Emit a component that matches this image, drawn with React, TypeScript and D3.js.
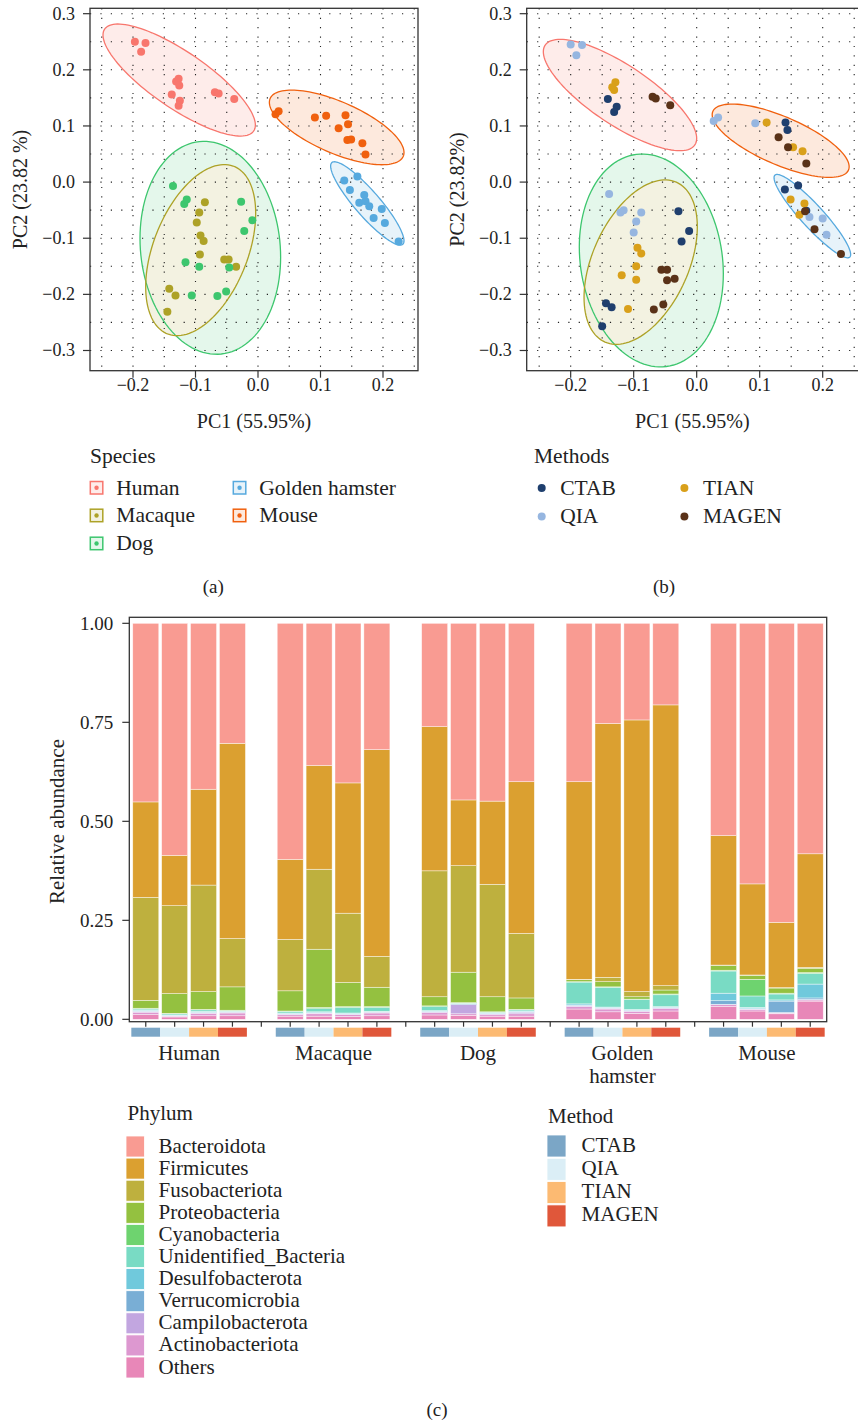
import * as d3 from "d3";

const FONT = "'Liberation Serif', 'Times New Roman', serif";

const speciesNames = ["Human", "Macaque", "Dog", "Golden hamster", "Mouse"];
const speciesColors = ["#F8766D", "#ADA227", "#3DC66E", "#56A9DE", "#F0600E"];
const methodNames = ["CTAB", "QIA", "TIAN", "MAGEN"];
const methodDotColors = ["#1F3F6E", "#96B6E0", "#D9A01A", "#5A3218"];
const methodStripColors = ["#7BA6C6", "#DBEEF6", "#FCBA72", "#E0573A"];

const pcTicksX = [-0.2, -0.1, 0, 0.1, 0.2];
const pcTicksY = [-0.3, -0.2, -0.1, 0, 0.1, 0.2, 0.3];

// panel (a): PC scores by species
const humanA = [[-0.197, 0.25], [-0.18, 0.248], [-0.187, 0.232], [-0.131, 0.179], [-0.127, 0.184], [-0.126, 0.172], [-0.138, 0.156], [-0.125, 0.145], [-0.127, 0.136], [-0.069, 0.16], [-0.063, 0.158], [-0.038, 0.148]];
const macaqueA = [[-0.085, -0.036], [-0.094, -0.054], [-0.098, -0.072], [-0.092, -0.095], [-0.087, -0.105], [-0.093, -0.129], [-0.054, -0.138], [-0.047, -0.138], [-0.035, -0.151], [-0.142, -0.19], [-0.132, -0.202], [-0.145, -0.231]];
const dogA = [[-0.136, -0.007], [-0.118, -0.039], [-0.114, -0.031], [-0.027, -0.035], [-0.009, -0.068], [-0.022, -0.087], [-0.116, -0.143], [-0.094, -0.151], [-0.046, -0.152], [-0.106, -0.202], [-0.065, -0.203], [-0.051, -0.195]];
const hamsterA = [[0.138, 0.003], [0.159, 0.01], [0.147, -0.014], [0.17, -0.023], [0.162, -0.037], [0.172, -0.034], [0.178, -0.043], [0.198, -0.048], [0.185, -0.064], [0.203, -0.073], [0.225, -0.106]];
const mouseA = [[0.028, 0.121], [0.033, 0.126], [0.091, 0.115], [0.109, 0.118], [0.14, 0.119], [0.129, 0.096], [0.144, 0.103], [0.143, 0.075], [0.149, 0.076], [0.167, 0.069], [0.172, 0.049]];

// ellipses: centre x, centre y, offset to right-most point (dx, dy), vertical half-chord through centre
const ellipsesA = [
  [-0.1261, 0.1818, 0.1219, -0.0802, 0.0594],
  [-0.0917, -0.1212, 0.088, 0.0654, 0.1377],
  [-0.0763, -0.1171, 0.1125, -0.0166, 0.1889],
  [0.1749, -0.038, 0.0587, -0.0665, 0.033],
  [0.1259, 0.0974, 0.1077, -0.0446, 0.0493],
];

// panel (b): PC scores by method
const ctabB = [[-0.141, 0.148], [-0.127, 0.134], [-0.131, 0.125], [0.141, 0.106], [0.144, 0.093], [0.14, -0.013], [0.161, -0.006], [0.174, -0.051], [-0.029, -0.052], [-0.012, -0.087], [-0.024, -0.106], [-0.144, -0.216], [-0.135, -0.223], [-0.15, -0.257]];
const qiaB = [[-0.2, 0.245], [-0.182, 0.244], [-0.191, 0.226], [0.027, 0.109], [0.034, 0.115], [0.093, 0.105], [0.179, -0.062], [0.2, -0.065], [0.206, -0.094], [-0.139, -0.021], [-0.121, -0.054], [-0.116, -0.05], [-0.088, -0.054], [-0.096, -0.07], [-0.1, -0.09]];
const tianB = [[-0.129, 0.178], [-0.134, 0.169], [-0.131, 0.164], [0.111, 0.106], [0.153, 0.062], [0.168, 0.055], [0.149, -0.031], [0.171, -0.038], [0.163, -0.058], [-0.094, -0.117], [-0.088, -0.127], [-0.096, -0.15], [-0.119, -0.166], [-0.096, -0.174], [-0.109, -0.226]];
const magenB = [[-0.07, 0.152], [-0.065, 0.149], [-0.042, 0.137], [0.13, 0.08], [0.145, 0.062], [0.174, 0.033], [0.172, -0.052], [0.187, -0.084], [0.229, -0.128], [-0.056, -0.156], [-0.047, -0.156], [-0.047, -0.175], [-0.035, -0.172], [-0.068, -0.227], [-0.053, -0.218]];

const ellipsesB = [
  [-0.1217, 0.1551, 0.1217, -0.0772, 0.0623],
  [-0.0889, -0.1426, 0.0899, 0.063, 0.1322],
  [-0.072, -0.1396, 0.1143, -0.0238, 0.1881],
  [0.1836, -0.0606, 0.0608, -0.0683, 0.0291],
  [0.1333, 0.0737, 0.1087, -0.0463, 0.0461],
];

// panel (c): relative abundance, order = species x method (CTAB, QIA, TIAN, MAGEN)
const phyla = ["Bacteroidota", "Firmicutes", "Fusobacteriota", "Proteobacteria", "Cyanobacteria", "Unidentified_Bacteria", "Desulfobacterota", "Verrucomicrobia", "Campilobacterota", "Actinobacteriota", "Others"];
const phylumColors = ["#F99B92", "#DBA030", "#BEB03E", "#94C140", "#6ED36F", "#79DBC4", "#70C9DC", "#79AED5", "#C2A6E0", "#DD98D0", "#E887B8"];

const bacteroidota = [0.451, 0.586, 0.419, 0.303, 0.596, 0.359, 0.403, 0.319, 0.261, 0.446, 0.449, 0.4, 0.4, 0.253, 0.244, 0.206, 0.536, 0.658, 0.755, 0.582];
const firmicutes = [0.241, 0.127, 0.242, 0.493, 0.202, 0.262, 0.329, 0.522, 0.364, 0.166, 0.21, 0.383, 0.499, 0.641, 0.686, 0.709, 0.327, 0.23, 0.165, 0.287];
const fusobacteriota = [0.26, 0.222, 0.269, 0.122, 0.13, 0.202, 0.175, 0.078, 0.318, 0.269, 0.284, 0.163, 0.001, 0.011, 0.013, 0.011, 0.001, 0.001, 0.001, 0.002];
const proteobacteria = [0.02, 0.05, 0.045, 0.059, 0.051, 0.147, 0.061, 0.049, 0.023, 0.077, 0.038, 0.029, 0.005, 0.013, 0.006, 0.01, 0.012, 0.01, 0.013, 0.011];
const cyanobacteria = [0.002, 0.001, 0.001, 0.001, 0.001, 0.003, 0.002, 0.002, 0.002, 0.001, 0.001, 0.001, 0.001, 0.001, 0.001, 0.002, 0.002, 0.042, 0.002, 0.002];
const unidentified = [0.003, 0.003, 0.004, 0.002, 0.004, 0.008, 0.014, 0.01, 0.01, 0.001, 0.001, 0.003, 0.055, 0.05, 0.025, 0.03, 0.056, 0.029, 0.015, 0.027];
const desulfobacterota = [0.002, 0.001, 0.002, 0.001, 0.002, 0.002, 0.002, 0.001, 0.002, 0.001, 0.002, 0.002, 0.003, 0.002, 0.002, 0.002, 0.019, 0.003, 0.003, 0.035];
const verrucomicrobia = [0.001, 0.001, 0.001, 0.001, 0.001, 0.001, 0.001, 0.001, 0.001, 0.002, 0.001, 0.001, 0.002, 0.001, 0.001, 0.001, 0.009, 0.001, 0.029, 0.004];
const campilobacterota = [0.002, 0.001, 0.002, 0.002, 0.001, 0.002, 0.001, 0.002, 0.002, 0.023, 0.002, 0.004, 0.002, 0.002, 0.002, 0.002, 0.001, 0.001, 0.001, 0.001];
const actinobacteriota = [0.006, 0.002, 0.006, 0.007, 0.004, 0.006, 0.005, 0.007, 0.006, 0.004, 0.004, 0.006, 0.006, 0.007, 0.005, 0.006, 0.004, 0.004, 0.002, 0.003];
const others = [0.012, 0.006, 0.009, 0.009, 0.008, 0.008, 0.007, 0.009, 0.011, 0.01, 0.008, 0.008, 0.026, 0.019, 0.015, 0.021, 0.033, 0.021, 0.014, 0.046];

const phylumValues = [bacteroidota, firmicutes, fusobacteriota, proteobacteria, cyanobacteria, unidentified, desulfobacterota, verrucomicrobia, campilobacterota, actinobacteriota, others];

const barTicks = [0, 0.25, 0.5, 0.75, 1];

const fmt1 = d3.format(".1f");
const fmt2 = d3.format(".2f");

// Dog's ellipse goes under Macaque's
const ellipseOrder = [0, 2, 1, 3, 4];

function ellipsePath(e, x, y) {
  const [cx, cy, rx, ry, v] = e;
  const pts = d3.range(0, 120).map((i) => {
    const t = (2 * Math.PI * i) / 120;
    return [cx + rx * Math.cos(t), cy + ry * Math.cos(t) + v * Math.sin(t)];
  });
  return d3
    .line()
    .x((d) => x(d[0]))
    .y((d) => y(d[1]))
    .curve(d3.curveLinearClosed)(pts);
}

function PcaPanel({ left, right, xDomain, ellipses, pointGroups, yTitle }) {
  const top = 8.3;
  const bottom = 370.7;
  const x = d3.scaleLinear().domain(xDomain).range([left, right]);
  const y = d3.scaleLinear().domain([-0.336, 0.3096]).range([bottom, top]);
  const gridX = d3.range(-0.25, 0.2501, 0.05);
  const gridY = d3.range(-0.3, 0.3001, 0.05);
  const midX = (left + Math.min(right, 858)) / 2;
  const midY = (top + bottom) / 2;

  return (
    <g>
      {/* fills first (tinted over white), then the dotted grid, then outlines */}
      {ellipseOrder.map((i) => (
        <g key={"ef" + i}>
          <path d={ellipsePath(ellipses[i], x, y)} fill="#fff" />
          <path d={ellipsePath(ellipses[i], x, y)} fill={speciesColors[i]} fillOpacity={0.14} />
        </g>
      ))}
      {gridX.map((g, i) => (
        <line key={"gx" + i} x1={x(g)} x2={x(g)} y1={top} y2={bottom} stroke="#222" strokeWidth={1.1} strokeDasharray="1.2 8.2" />
      ))}
      {gridY.map((g, i) => (
        <line key={"gy" + i} x1={left} x2={right} y1={y(g)} y2={y(g)} stroke="#222" strokeWidth={1.1} strokeDasharray="1.2 9.2" />
      ))}
      {ellipseOrder.map((i) => (
        <path key={"e" + i} d={ellipsePath(ellipses[i], x, y)} fill="none" stroke={speciesColors[i]} strokeWidth={1.3} />
      ))}
      {pointGroups.map((grp, gi) =>
        grp.pts.map((p, i) => <circle key={gi + "-" + i} cx={x(p[0])} cy={y(p[1])} r={4} fill={grp.color} />)
      )}
      <rect x={left} y={top} width={right - left} height={bottom - top} fill="none" stroke="#333" strokeWidth={1.3} />
      {pcTicksY.map((t) => (
        <g key={"ty" + t}>
          <line x1={left - 7} x2={left} y1={y(t)} y2={y(t)} stroke="#333" strokeWidth={1.2} />
          <text x={left - 15} y={y(t) + 6} textAnchor="end" fontSize={18} fill="#222">
            {fmt1(t)}
          </text>
        </g>
      ))}
      {pcTicksX.map((t) => (
        <g key={"tx" + t}>
          <line x1={x(t)} x2={x(t)} y1={bottom} y2={bottom + 7} stroke="#333" strokeWidth={1.2} />
          <text x={x(t)} y={bottom + 20} textAnchor="middle" fontSize={18} fill="#222">
            {fmt1(t)}
          </text>
        </g>
      ))}
      <text x={midX} y={428} textAnchor="middle" fontSize={20} fill="#222">
        PC1 (55.95%)
      </text>
      <text transform={`translate(${left - 63},${midY}) rotate(-90)`} textAnchor="middle" fontSize={20} fill="#222">
        {yTitle}
      </text>
    </g>
  );
}

function BarPanel() {
  const left = 129.3;
  const right = 826.7;
  const top = 617.3;
  const bottom = 1021.7;

  const slots = [];
  speciesNames.forEach((s, si) => {
    methodNames.forEach((m) => slots.push(s + "|" + m));
    if (si < speciesNames.length - 1) slots.push("gap" + si);
  });

  const rows = speciesNames.flatMap((s, si) =>
    methodNames.map((m, mi) => {
      const row = { slot: s + "|" + m, method: mi };
      phyla.forEach((p, pi) => (row[p] = phylumValues[pi][si * 4 + mi]));
      return row;
    })
  );

  const x = d3.scalePoint().domain(slots).range([left, right]).padding(0.57);
  const step = x.step();
  const bw = step * 0.9;
  const y = d3.scaleLinear().domain([-0.006, 1.0152]).range([bottom, top]);
  const series = d3.stack().keys([...phyla].reverse())(rows);

  return (
    <g>
      {series.map((s) => {
        const ci = phyla.indexOf(s.key);
        return s.map((d, i) => (
          <rect
            key={s.key + i}
            x={x(d.data.slot) - bw / 2}
            y={y(d[1])}
            width={bw}
            height={Math.max(0, y(d[0]) - y(d[1]))}
            fill={phylumColors[ci]}
            stroke="#fff"
            strokeOpacity={0.7}
            strokeWidth={0.6}
          />
        ));
      })}
      <rect x={left} y={top} width={right - left} height={bottom - top} fill="none" stroke="#333" strokeWidth={1.3} />
      {barTicks.map((t) => (
        <g key={"bt" + t}>
          <line x1={left - 7} x2={left} y1={y(t)} y2={y(t)} stroke="#333" strokeWidth={1.2} />
          <text x={left - 16} y={y(t) + 7} textAnchor="end" fontSize={19} fill="#222">
            {fmt2(t)}
          </text>
        </g>
      ))}
      {slots.map((s) => (
        <line key={"xt" + s} x1={x(s)} x2={x(s)} y1={bottom} y2={bottom + 5} stroke="#333" strokeWidth={1.2} />
      ))}
      {rows.map((r) => (
        <rect key={"strip" + r.slot} x={x(r.slot) - step / 2} y={1027.7} width={step} height={9} fill={methodStripColors[r.method]} />
      ))}
      {speciesNames.map((s) => {
        const cx = (x(s + "|QIA") + x(s + "|TIAN")) / 2;
        const lines = s === "Golden hamster" ? ["Golden", "hamster"] : [s];
        return (
          <text key={"lab" + s} x={cx} y={1060} textAnchor="middle" fontSize={21} fill="#222">
            {lines.map((l, i) => (
              <tspan key={l} x={cx} dy={i === 0 ? 0 : 23}>
                {l}
              </tspan>
            ))}
          </text>
        );
      })}
      <text transform={`translate(64,${(top + bottom) / 2 + 2}) rotate(-90)`} textAnchor="middle" fontSize={21} fill="#222">
        Relative abundance
      </text>
    </g>
  );
}

export default function App() {
  const groupsA = speciesNames.map((s, i) => ({
    color: speciesColors[i],
    pts: [humanA, macaqueA, dogA, hamsterA, mouseA][i],
  }));
  const groupsB = methodNames.map((m, i) => ({
    color: methodDotColors[i],
    pts: [ctabB, qiaB, tianB, magenB][i],
  }));

  const speciesLegendPos = [
    [89.3, 481],
    [89.3, 508.7],
    [89.3, 536.7],
    [232.3, 481],
    [232.3, 508.7],
  ];
  const methodLegendPos = [
    [541.7, 488],
    [541.7, 516.5],
    [684.4, 488],
    [684.4, 516.5],
  ];

  return (
    <svg
      width={858}
      height={1421}
      style={{ position: "absolute", left: 0, top: 0, background: "#fff" }}
      fontFamily={FONT}
    >
      <rect width={858} height={1421} fill="#fff" />
      <PcaPanel left={90} right={418} xDomain={[-0.2688, 0.256]} ellipses={ellipsesA} pointGroups={groupsA} yTitle="PC2 (23.82 %)" />
      <PcaPanel left={526.7} right={861} xDomain={[-0.2698, 0.2608]} ellipses={ellipsesB} pointGroups={groupsB} yTitle="PC2 (23.82%)" />

      {/* Species legend */}
      <text x={90} y={463} fontSize={21.5} fill="#222">
        Species
      </text>
      {speciesNames.map((s, i) => {
        const [kx, ky] = speciesLegendPos[i];
        return (
          <g key={"sl" + s}>
            <rect x={kx + 1} y={ky + 0.5} width={12.5} height={12.5} fill={speciesColors[i]} fillOpacity={0.14} stroke={speciesColors[i]} strokeWidth={1.5} />
            <circle cx={kx + 7.25} cy={ky + 6.75} r={2.2} fill={speciesColors[i]} />
            <text x={kx + 27} y={ky + 13.5} fontSize={21.5} fill="#222">
              {s}
            </text>
          </g>
        );
      })}

      {/* Methods legend */}
      <text x={534} y={463} fontSize={21.5} fill="#222">
        Methods
      </text>
      {methodNames.map((m, i) => {
        const [kx, ky] = methodLegendPos[i];
        return (
          <g key={"ml" + m}>
            <circle cx={kx} cy={ky} r={4} fill={methodDotColors[i]} />
            <text x={kx + 18.5} y={ky + 6.5} fontSize={21.5} fill="#222">
              {m}
            </text>
          </g>
        );
      })}

      <text x={213.3} y={593} textAnchor="middle" fontSize={19} fill="#222">
        (a)
      </text>
      <text x={664} y={593} textAnchor="middle" fontSize={19} fill="#222">
        (b)
      </text>

      <BarPanel />

      {/* Phylum legend */}
      <text x={127.6} y={1120} fontSize={21} fill="#222">
        Phylum
      </text>
      {phyla.map((p, i) => {
        const ky = 1136 + i * 22.1;
        return (
          <g key={"pl" + p}>
            <rect x={126} y={ky} width={18.5} height={21} fill={phylumColors[i]} stroke="#fff" strokeWidth={0.8} />
            <text x={158.6} y={ky + 16.5} fontSize={21} fill="#222">
              {p}
            </text>
          </g>
        );
      })}

      {/* Method legend */}
      <text x={548} y={1123} fontSize={21} fill="#222">
        Method
      </text>
      {methodNames.map((m, i) => {
        const ky = 1135 + i * 23.3;
        return (
          <g key={"mm" + m}>
            <rect x={547} y={ky} width={19} height={22} fill={methodStripColors[i]} stroke="#fff" strokeWidth={0.8} />
            <text x={581.6} y={ky + 16.5} fontSize={21} fill="#222">
              {m}
            </text>
          </g>
        );
      })}

      <text x={437} y={1416} textAnchor="middle" fontSize={19} fill="#222">
        (c)
      </text>
    </svg>
  );
}
